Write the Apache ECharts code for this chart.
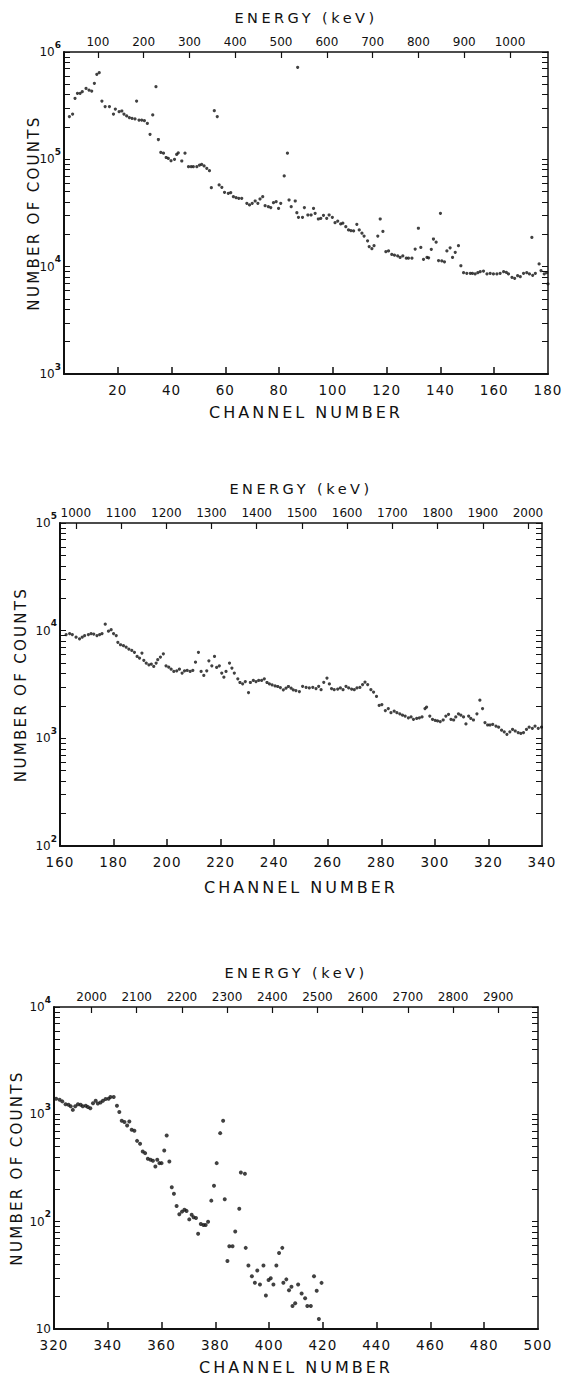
<!DOCTYPE html>
<html>
<head>
<meta charset="utf-8">
<script src="https://cdn.jsdelivr.net/npm/echarts@6/dist/echarts.min.js"></script>
<style>
  html, body { margin: 0; padding: 0; background: #fff; }
  #chart { width: 565px; height: 1376px; }
  /* hand-lettered look: widen the spacing of the axis titles and tick labels */
  #chart text[style*="14.5px"] { letter-spacing: 3.5px; }
  #chart text[style*="16px"] { letter-spacing: 3px; }
  #chart text[style*="15px"] { letter-spacing: 2.3px; }
  #chart text[style*="13.5px"] { letter-spacing: 1px; }
</style>
</head>
<body>
<div id="chart"></div>
<script>
// Gamma-ray spectrum, counts per channel, split into three channel ranges.

// Channels 0-180
const lowRange = [
  [2.0,250000],[3.2,264000],[4.1,370000],[5.0,412000],[6.0,412000],[6.8,427000],[8.2,458000],[9.3,442000],
  [10.3,433000],[11.3,511000],[12.2,619000],[13.1,642000],[14.1,349000],[15.3,310000],[16.9,310000],
  [18.4,264000],[19.1,294000],[20.5,278000],[21.5,282000],[22.3,264000],[23.3,254000],[24.3,245000],
  [25.3,241000],[26.4,238000],[27.0,349000],[27.9,232000],[28.9,232000],[29.9,229000],[31.0,216000],
  [32.0,171000],[33.0,259000],[34.2,475000],[35.1,153000],[36.0,116000],[37.0,114000],[38.0,104000],
  [38.8,102000],[39.8,97000],[41.1,100000],[41.9,111000],[42.5,115000],[43.8,96500],[45.0,114000],
  [46.3,85500],[47.3,85500],[48.1,85500],[49.4,85500],[50.4,88500],[51.2,89800],[52.1,86700],
  [53.1,82400],[54.1,78400],[54.8,54400],[55.9,284000],[57.0,250000],[57.7,57700],[58.7,54800],
  [59.7,49300],[61.1,48200],[62.0,48900],[63.0,44900],[64.0,43900],[65.0,43300],[66.1,43300],
  [68.0,38900],[69.0,37600],[70.0,38900],[71.1,40900],[72.1,38900],[72.9,42700],[73.9,44900],
  [74.8,37000],[76.0,36200],[76.9,35500],[77.9,39500],[78.9,40300],[79.8,34900],[80.6,38900],
  [81.9,70000],[83.1,114000],[83.7,41800],[84.5,36200],[86.0,40900],[86.6,31800],[86.9,720000],
  [87.2,28800],[88.7,28800],[89.4,35500],[90.7,30300],[91.9,30300],[92.8,34900],[93.4,31400],
  [94.6,27800],[95.5,28200],[96.5,30100],[97.7,28200],[98.6,30300],[99.8,28800],[100.8,25700],
  [101.8,26600],[102.9,25000],[103.7,25400],[104.8,23600],[105.8,22000],[106.7,21700],[107.7,21500],
  [108.9,24800],[109.8,22000],[110.8,20500],[111.6,19300],[112.9,17400],[113.5,15400],[114.5,14700],
  [115.3,15700],[116.7,19300],[117.6,27800],[118.6,21300],[119.7,13800],[120.7,14000],[121.9,13000],
  [122.9,12800],[124.1,12600],[125.0,12200],[126.0,12600],[127.3,12000],[128.1,12000],[129.4,12000],
  [130.6,14600],[131.8,22800],[132.7,15100],[133.7,11700],[135.0,12200],[135.6,12100],[136.6,14500],
  [137.4,18100],[138.4,16900],[139.3,11400],[140.0,31400],[140.5,11300],[141.5,11100],[142.4,14000],
  [143.6,15000],[144.5,12200],[145.5,13600],[146.7,15700],[147.6,10200],[148.6,8800],[149.8,8670],
  [151.1,8670],[151.9,8670],[152.9,8550],[153.9,8800],[154.8,8980],[156.0,9100],[157.3,8550],
  [158.5,8670],[159.7,8550],[161.0,8550],[162.2,8670],[163.5,8980],[164.5,8850],[165.3,8550],
  [166.6,7960],[167.6,7790],[168.7,8250],[169.7,8070],[170.9,8670],[172.1,8800],[173.1,8550],
  [174.0,18700],[174.3,8300],[175.3,8670],[176.7,10600],[177.4,9200],[178.6,8550],[179.5,8800],
  [180.0,6900]
];

// Channels 160-340
const midRange = [
  [162.3,9200],[163.6,9400],[164.6,9200],[166.0,8700],[167.3,8400],[168.3,8700],[169.2,9000],
  [170.6,9200],[171.6,9400],[172.6,9300],[173.8,9000],[174.8,9200],[175.7,9400],[176.9,11500],
  [178.1,9900],[179.1,10200],[180.0,9400],[181.0,9000],[181.6,7800],[182.6,7400],[183.7,7250],
  [184.7,7050],[185.7,6750],[186.8,6550],[187.8,6300],[188.8,5770],[189.7,5560],[190.6,6200],
  [191.3,5300],[192.2,5000],[193.2,4820],[194.1,4900],[195.0,4650],[195.9,5000],[196.5,5370],
  [197.5,5690],[198.6,6100],[199.6,4720],[200.6,4580],[201.5,4390],[202.5,4180],[203.6,4240],
  [204.6,4390],[205.6,4040],[206.5,4240],[207.5,4270],[208.6,4180],[209.6,4270],[210.6,5100],
  [211.7,6300],[212.7,4180],[213.7,3840],[214.8,4240],[215.6,5250],[216.7,4720],[217.7,5770],
  [218.5,4550],[219.5,4720],[220.4,4040],[221.2,3700],[222.0,4180],[223.3,5000],[224.2,4490],
  [225.1,4040],[226.4,3570],[227.2,3300],[228.2,3210],[229.2,3370],[230.4,2660],[231.1,3300],
  [232.2,3450],[233.2,3370],[234.2,3450],[235.3,3450],[236.3,3570],[237.3,3300],[238.2,3210],
  [239.2,3140],[240.3,3070],[241.3,3030],[242.3,2960],[243.4,2820],[244.4,2920],[245.3,3030],
  [246.3,2920],[247.1,2820],[248.1,2780],[249.4,2720],[250.6,3040],[251.9,2980],[253.1,2940],
  [254.4,2980],[255.6,2900],[256.6,3040],[257.5,2830],[258.5,3310],[259.7,3630],[260.6,3200],
  [261.4,2900],[262.4,2830],[263.7,2870],[264.7,2940],[265.7,2830],[266.8,3040],[267.8,2940],
  [268.9,2870],[269.9,2830],[270.9,2940],[272.0,2970],[273.0,3160],[273.9,3330],[274.9,3160],
  [276.1,2830],[277.1,2690],[278.2,2450],[279.2,2020],[280.2,2060],[281.5,1810],[282.6,1890],
  [283.6,1730],[284.8,1790],[285.8,1730],[286.9,1690],[287.9,1640],[288.9,1610],[290.1,1550],
  [291.1,1580],[292.0,1500],[293.2,1530],[294.2,1550],[295.2,1580],[296.3,1890],[296.9,1950],
  [298.1,1610],[299.1,1500],[300.1,1470],[301.0,1450],[302.0,1430],[303.1,1480],[304.1,1610],
  [305.1,1670],[306.0,1500],[307.0,1480],[307.8,1580],[308.8,1690],[309.7,1640],[310.7,1580],
  [311.6,1360],[312.6,1610],[313.4,1530],[314.4,1480],[315.7,1690],[316.8,2260],[317.8,1890],
  [318.7,1400],[319.7,1330],[320.6,1330],[321.6,1350],[322.8,1300],[323.8,1270],[324.9,1190],
  [325.9,1150],[326.9,1090],[328.0,1150],[329.0,1210],[330.0,1170],[331.1,1130],[332.1,1110],
  [333.1,1130],[334.2,1210],[335.2,1270],[336.4,1240],[337.4,1300],[338.6,1240],[339.8,1270]
];

// Channels 320-500
const highRange = [
  [320.8,1400],[322.1,1370],[323.1,1320],[324.3,1240],[325.4,1230],[326.2,1190],[327.0,1100],
  [327.9,1190],[328.9,1240],[329.9,1230],[330.7,1190],[331.8,1200],[332.6,1170],[333.5,1140],
  [334.5,1270],[335.5,1340],[336.3,1260],[337.3,1290],[338.2,1340],[339.2,1390],[340.3,1400],
  [341.0,1450],[342.2,1450],[343.4,1200],[344.3,1050],[345.2,870],[346.2,848],[347.2,788],
  [348.0,859],[348.9,718],[349.9,703],[350.9,566],[352.0,531],[353.0,451],[353.9,435],[354.9,385],
  [355.9,377],[356.8,369],[357.7,327],[358.4,377],[359.2,351],[360.0,351],[361.0,460],[361.9,635],
  [362.9,363],[363.8,209],[364.6,182],[365.6,140],[366.6,117],[367.6,124],[368.5,129],[369.3,126],
  [370.3,105],[371.2,116],[371.9,110],[372.8,108],[373.6,77],[374.6,95],[375.6,93],[376.4,93],
  [377.3,100],[378.5,157],[379.5,216],[380.5,351],[381.8,668],[382.9,871],[383.5,162],[384.5,43],
  [385.2,59],[386.4,59],[387.4,81],[388.9,132],[389.5,287],[391.0,279],[391.3,57],[392.3,39],
  [393.6,31],[394.7,27],[395.6,35],[396.6,26],[397.9,39],[398.8,20.5],[399.8,28.6],[400.6,29.7],
  [401.6,26],[402.7,39],[403.7,51],[404.9,57],[405.3,27],[406.4,29],[407.4,23],[408.3,24.7],
  [408.7,16.4],[409.7,17.4],[410.8,26],[412.1,21.4],[413.4,19.3],[414.2,16.4],[415.5,16.4],
  [416.7,31],[417.7,22.7],[418.5,12.4],[419.5,26.9]
];

// Channel axis extents and labelled channels
const lowChannelExtent = [0, 180];
const midChannelExtent = [160, 340];
const highChannelExtent = [320, 500];
const lowChannelLabels = [20, 40, 60, 80, 100, 120, 140, 160, 180];
const midChannelLabels = [160, 180, 200, 220, 240, 260, 280, 300, 320, 340];
const highChannelLabels = [320, 340, 360, 380, 400, 420, 440, 460, 480, 500];

// Energy scale (keV) along the top edge of each range
const lowEnergyExtent = [26, 1083];
const midEnergyExtent = [965, 2031];
const highEnergyExtent = [1917, 2988];
const lowEnergyLabels = [100, 200, 300, 400, 500, 600, 700, 800, 900, 1000];
const midEnergyLabels = [1000, 1100, 1200, 1300, 1400, 1500, 1600, 1700, 1800, 1900, 2000];
const highEnergyLabels = [2000, 2100, 2200, 2300, 2400, 2500, 2600, 2700, 2800, 2900];

// Count axis decades
const lowDecades = [1e3, 1e4, 1e5, 1e6];
const midDecades = [1e2, 1e3, 1e4, 1e5];
const highDecades = [1e1, 1e2, 1e3, 1e4];

const FONT = 'DejaVu Sans';
const INK = '#111';

function logTicks(decades) {
  const out = [];
  for (let i = 0; i < decades.length - 1; i++) {
    for (let m = 1; m < 10; m++) out.push(decades[i] * m);
  }
  out.push(decades[decades.length - 1]);
  return out;
}

function powerLabel(v) {
  const e = Math.round(Math.log10(v));
  return e === 1 ? '{b|10}' : '{b|10}{s|' + e + '}';
}

const plain = v => String(v);

const panels = [
  { data: lowRange, ch: lowChannelExtent, chLabels: lowChannelLabels, en: lowEnergyExtent,
    enLabels: lowEnergyLabels, dec: lowDecades, size: 3.2,
    grid: { left: 64, top: 52, width: 484, height: 322 }, yGap: 23, xGap: 30 },
  { data: midRange, ch: midChannelExtent, chLabels: midChannelLabels, en: midEnergyExtent,
    enLabels: midEnergyLabels, dec: midDecades, size: 3.2,
    grid: { left: 60, top: 523, width: 482, height: 323 }, yGap: 32, xGap: 33 },
  { data: highRange, ch: highChannelExtent, chLabels: highChannelLabels, en: highEnergyExtent,
    enLabels: highEnergyLabels, dec: highDecades, size: 4,
    grid: { left: 54, top: 1007, width: 484, height: 322 }, yGap: 30, xGap: 30 }
];

const grid = [], xAxis = [], yAxis = [], series = [];

panels.forEach((p, i) => {
  grid.push(Object.assign({ containLabel: false }, p.grid));
  const inner = p.chLabels.filter(v => v > p.ch[0] && v < p.ch[1]);

  xAxis.push({
    gridIndex: i, type: 'value', position: 'bottom', min: p.ch[0], max: p.ch[1],
    axisLine: { lineStyle: { color: INK, width: 2 } },
    axisTick: { inside: true, length: 7, customValues: inner, lineStyle: { color: INK, width: 1.5 } },
    axisLabel: { customValues: p.chLabels, formatter: plain, margin: 9, color: INK,
                 fontFamily: FONT, fontSize: 13.5 },
    splitLine: { show: false },
    name: 'CHANNEL NUMBER', nameLocation: 'middle', nameGap: p.xGap, nameMoveOverlap: false,
    nameTextStyle: { color: INK, fontFamily: FONT, fontSize: 16 }
  });
  xAxis.push({
    gridIndex: i, type: 'value', position: 'top', min: p.en[0], max: p.en[1],
    axisLine: { lineStyle: { color: INK, width: 1.5 } },
    axisTick: { inside: true, length: 6, customValues: p.enLabels, lineStyle: { color: INK, width: 1.2 } },
    axisLabel: { customValues: p.enLabels, formatter: plain, margin: 4, color: INK,
                 fontFamily: FONT, fontSize: 12 },
    splitLine: { show: false },
    name: 'ENERGY (keV)', nameLocation: 'middle', nameGap: 27, nameMoveOverlap: false,
    nameTextStyle: { color: INK, fontFamily: FONT, fontSize: 14.5 }
  });

  const ticks = logTicks(p.dec);
  yAxis.push({
    gridIndex: i, type: 'log', logBase: 10, position: 'left',
    min: p.dec[0], max: p.dec[p.dec.length - 1],
    axisLine: { lineStyle: { color: INK, width: 2 } },
    axisTick: { inside: true, length: 6, customValues: ticks, lineStyle: { color: INK, width: 1 } },
    axisLabel: {
      customValues: p.dec, margin: 3, formatter: powerLabel,
      rich: {
        b: { fontSize: 12, fontFamily: FONT, color: INK, lineHeight: 24 },
        s: { fontSize: 9, fontFamily: FONT, fontWeight: 'bold', color: INK,
             verticalAlign: 'top', lineHeight: 9 }
      }
    },
    splitLine: { show: false },
    name: 'NUMBER OF COUNTS', nameLocation: 'middle', nameGap: p.yGap, nameRotate: 90,
    nameMoveOverlap: false,
    nameTextStyle: { color: INK, fontFamily: FONT, fontSize: 15 }
  });
  yAxis.push({
    gridIndex: i, type: 'log', logBase: 10, position: 'right',
    min: p.dec[0], max: p.dec[p.dec.length - 1],
    axisLine: { lineStyle: { color: INK, width: 1.5 } },
    axisTick: { inside: true, length: 6, customValues: ticks, lineStyle: { color: INK, width: 1 } },
    axisLabel: { show: false },
    splitLine: { show: false }
  });

  series.push({
    type: 'scatter', xAxisIndex: i * 2, yAxisIndex: i * 2,
    data: p.data, symbol: 'circle', symbolSize: p.size,
    itemStyle: { color: INK }, silent: true
  });
});

const chart = echarts.init(document.getElementById('chart'), null, { renderer: 'svg' });
chart.setOption({
  animation: false,
  backgroundColor: '#fff',
  textStyle: { fontFamily: FONT },
  grid, xAxis, yAxis, series
});
</script>
</body>
</html>
